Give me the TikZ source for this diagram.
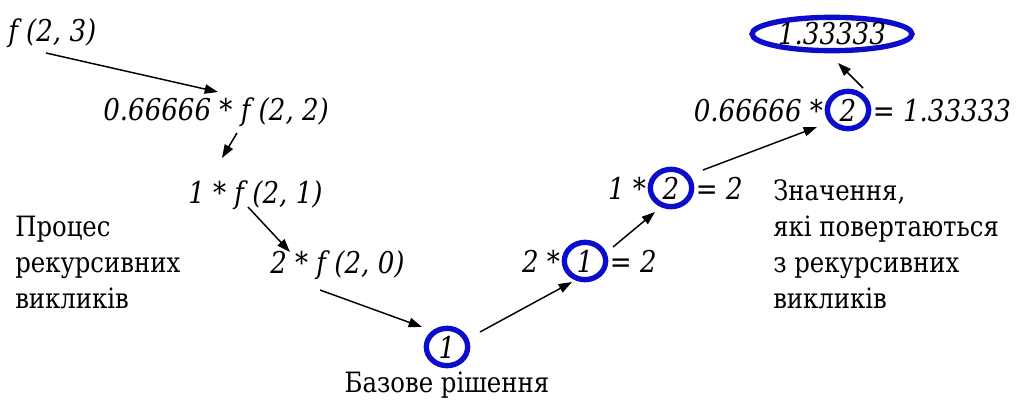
\documentclass[tikz,border=0pt]{standalone}
\usepackage{fontspec}
\setmainfont{DejaVu Serif}[FakeStretch=0.87]
\usetikzlibrary{arrows.meta,calc,shapes.geometric}
\definecolor{ringblue}{RGB}{12,12,205}

\begin{document}
\begin{tikzpicture}[x=0.75pt, y=-0.75pt,
    every node/.style={inner sep=0pt, font=\rmfamily\fontsize{21}{27}\selectfont},
    expr/.style={anchor=base west, font=\rmfamily\fontsize{22.5}{27}\selectfont\itshape},
    note/.style={align=left, anchor=base west},
    ring/.style={ellipse, draw=ringblue, line width=4pt, minimum width=31pt, minimum height=28pt,
        font=\rmfamily\fontsize{22.5}{27}\selectfont\itshape},
    arr/.style={-{Triangle[length=10pt,width=7pt]}, line width=1.1pt}
]
\useasboundingbox (0,0) rectangle (1024,403);

% recursive calls
\node[expr] (f23) at (8,42) {f (2, 3)};
\node[expr] (f22) at (103,120) {0.66666 * f (2, 2)};
\node[expr] (f21) at (188,203) {1 * f (2, 1)};
\node[expr] (f20) at (270,273) {2 * f (2, 0)};

% base case
\node[ring] (c0) at (447,347) {1};
\node[anchor=base] (basecase) at (447,392) {Базове рішення};

% returned values
\node[ring] (c1) at (585,261) {1};
\node[expr, anchor=base east] (m1) at ([xshift=-1pt]c1.west |- c1.base) {2 *};
\node[expr] (r1) at ([xshift=1pt]c1.east |- c1.base) {= 2};

\node[ring] (c2) at (671,188) {2};
\node[expr, anchor=base east] (m2) at ([xshift=-1pt]c2.west |- c2.base) {1 *};
\node[expr] (r2) at ([xshift=1pt]c2.east |- c2.base) {= 2};

\node[ring] (c3) at (848,110) {2};
\node[expr, anchor=base east] (m3) at ([xshift=-1pt]c3.west |- c3.base) {0.66666 *};
\node[expr] (r3) at ([xshift=1pt]c3.east |- c3.base) {= 1.33333};

\node[ring, minimum width=120pt, minimum height=25pt] (res) at (832,34) {1.33333};

% notes
\node[note] (calls) at (15,308) {Процес\\рекурсивних\\викликів};
\node[note] (vals) at (773,308) {Значення,\\які повертаються\\з рекурсивних\\викликів};

% arrows
\draw[arr] ($(f23.base west)+(38,11)$) -- ($(f22.base west)+(115,-28)$);
\draw[arr] ($(f22.base west)+(134,13)$) -- ($(f21.base west)+(34,-45)$);
\draw[arr] ($(f21.base west)+(60,4)$) -- ($(f20.base west)+(20,-21)$);
\draw[arr] ($(f20.base west)+(50,17)$) -- ($(c0)+(-25,-20)$);
\draw[arr] ($(c0)+(33,-15)$) -- ($(c1)+(-13,21)$);
\draw[arr] ($(c1)+(28,-14)$) -- ($(c2)+(-16,24)$);
\draw[arr] ($(c2)+(32,-18)$) -- ($(c3)+(-31,17)$);
\draw[arr] ($(c3)+(15,-22)$) -- ($(res)+(6,29)$);
\end{tikzpicture}
\end{document}
